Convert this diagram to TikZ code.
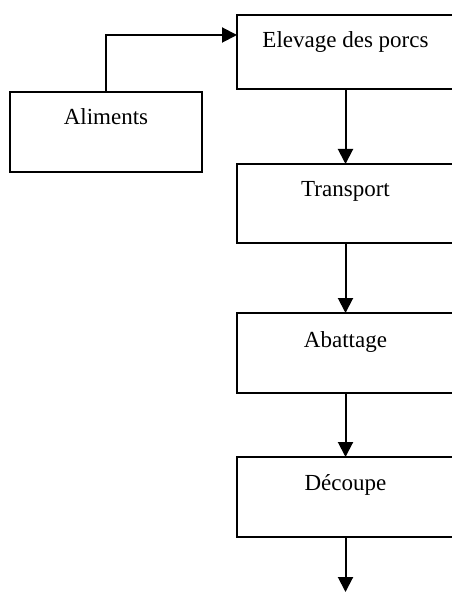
\documentclass[tikz,border=0pt]{standalone}
\usepackage{fontspec}
\setmainfont{Liberation Serif}
\usepackage{tikz}
\usetikzlibrary{arrows.meta,positioning}

\begin{document}
\begin{tikzpicture}[x=1pt, y=1pt,
    stagebox/.style={draw, line width=2pt, rectangle, inner xsep=0pt, inner ysep=0pt, outer sep=0pt,
        minimum width=217pt, text height=33pt, text depth=46pt,
        font=\fontsize{23}{27}\selectfont},
    flow/.style={line width=2pt, -{Triangle[length=15pt, width=15pt]}}]
    \useasboundingbox (0,0) rectangle (451,-593);

    % Main chain (right column, cut at the page edge)
    \node[stagebox, text depth=41pt, anchor=north west] (elevage) at (237,-15) {Elevage des porcs};
    \node[stagebox, below=75pt of elevage] (transport) {Transport};
    \node[stagebox, text height=34pt, below=70pt of transport] (abattage) {Abattage};
    \node[stagebox, text depth=47pt, below=64pt of abattage] (decoupe) {Découpe};

    % Input on the left
    \node[stagebox, text depth=47pt, minimum width=192pt, anchor=north east] (aliments)
        at ([xshift=-35pt, yshift=-3pt]elevage.south west) {Aliments};

    % Arrows
    \draw[flow] (aliments.north) |- ([yshift=-20pt]elevage.north west);
    \draw[flow] (elevage) -- (transport);
    \draw[flow] (transport) -- (abattage);
    \draw[flow] (abattage) -- (decoupe);
    \coordinate (sortie) at ([yshift=-55pt]decoupe.south);
    \draw[flow] (decoupe) -- (sortie);
\end{tikzpicture}
\end{document}
